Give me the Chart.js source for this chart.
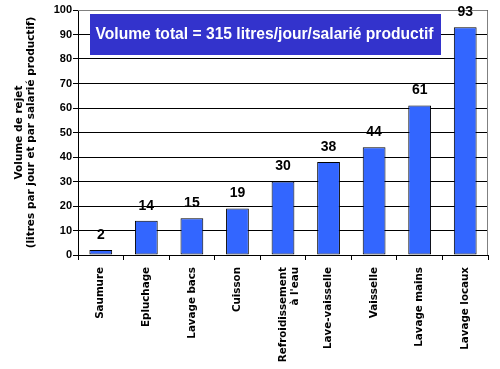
<!DOCTYPE html>
<html lang="fr">
<head>
  <meta charset="UTF-8">
  <title>Volume de rejet</title>
  <style>
    html, body { margin: 0; padding: 0; background: #fff; }
    #wrap { width: 500px; height: 369px; position: relative; }
  </style>
</head>
<body>
  <div id="wrap"><canvas id="rejetChart" width="500" height="369"></canvas></div>
  <script src="https://cdn.jsdelivr.net/npm/chart.js"></script>
  <script>
    // données
    const categories = ['Saumure', 'Epluchage', 'Lavage bacs', 'Cuisson', ['Refroidissement', "à l'eau"],
      'Lave-vaisselle', 'Vaisselle', 'Lavage mains', 'Lavage locaux'];
    const volumes = [2, 14, 15, 19, 30, 38, 44, 61, 93];
    const yTicks = [0, 10, 20, 30, 40, 50, 60, 70, 80, 90, 100];
    const titleText = 'Volume total = 315 litres/jour/salarié productif';
    const yTitle = ['Volume de rejet', '(litres par jour et par salarié productif)'];

    // cadre gris + encadré bleu + étiquettes de valeurs
    const decor = {
      id: 'decor',
      beforeDatasetsDraw(chart) {
        const { ctx, chartArea: a } = chart;
        ctx.save();
        ctx.strokeStyle = '#808080';
        ctx.lineWidth = 1;
        ctx.beginPath();
        ctx.moveTo(a.left, a.top + 0.5);
        ctx.lineTo(a.right - 0.5, a.top + 0.5);
        ctx.lineTo(a.right - 0.5, a.bottom);
        ctx.stroke();
        ctx.restore();
      },
      afterDatasetsDraw(chart) {
        const { ctx } = chart;
        const meta = chart.getDatasetMeta(0);
        ctx.save();
        ctx.fillStyle = '#000';
        ctx.font = 'bold 14px "Liberation Sans", Arial, sans-serif';
        ctx.textAlign = 'center';
        ctx.textBaseline = 'bottom';
        meta.data.forEach((bar, i) => {
          ctx.fillText(String(volumes[i]), bar.x, bar.y - 8);
        });

        // encadré du titre
        ctx.fillStyle = '#3333CC';
        ctx.fillRect(90, 14, 351, 41);
        ctx.fillStyle = '#fff';
        ctx.font = 'bold 16px "Liberation Sans", Arial, sans-serif';
        ctx.textBaseline = 'middle';
        ctx.fillText(titleText, 264.5, 35, 338);
        ctx.restore();
      }
    };

    const chartCtx = document.getElementById('rejetChart').getContext('2d');
    const rejetChart = new Chart(chartCtx, {
      type: 'bar',
      data: {
        labels: categories,
        datasets: [{
          data: volumes,
          backgroundColor: '#3366FF',
          borderColor: '#000',
          borderWidth: 1,
          borderSkipped: false,
          barPercentage: 0.5,
          categoryPercentage: 1
        }]
      },
      options: {
        responsive: false,
        animation: false,
        layout: { padding: { top: 10, right: 12, left: 13, bottom: 0 } },
        scales: {
          y: {
            min: 0,
            max: 100,
            afterBuildTicks(scale) {
              scale.ticks = yTicks.map(v => ({ value: v }));
            },
            afterFit(scale) { scale.width = 65; },
            grid: {
              color: '#000',
              lineWidth: 1,
              tickLength: 5,
              drawTicks: true
            },
            border: { color: '#000', width: 1 },
            ticks: {
              color: '#000',
              padding: 1,
              font: { family: '"Liberation Sans", Arial, sans-serif', size: 11, weight: 'bold' }
            },
            title: {
              display: true,
              text: yTitle,
              color: '#000',
              padding: { top: 0, bottom: 8 },
              font: { family: '"DejaVu Sans", Verdana, sans-serif', size: 10.5, weight: 'bold', lineHeight: 1.15 }
            }
          },
          x: {
            afterFit(scale) { scale.height = 114; },
            grid: {
              offset: true,
              drawOnChartArea: false,
              color: '#000',
              tickLength: 5
            },
            border: { color: '#000', width: 1 },
            ticks: {
              color: '#000',
              minRotation: 90,
              maxRotation: 90,
              autoSkip: false,
              padding: 7,
              font: { family: '"DejaVu Sans", Verdana, sans-serif', size: 10.3, weight: 'bold' }
            }
          }
        },
        plugins: {
          legend: { display: false },
          tooltip: { enabled: false }
        }
      },
      plugins: [decor]
    });
  </script>
</body>
</html>
